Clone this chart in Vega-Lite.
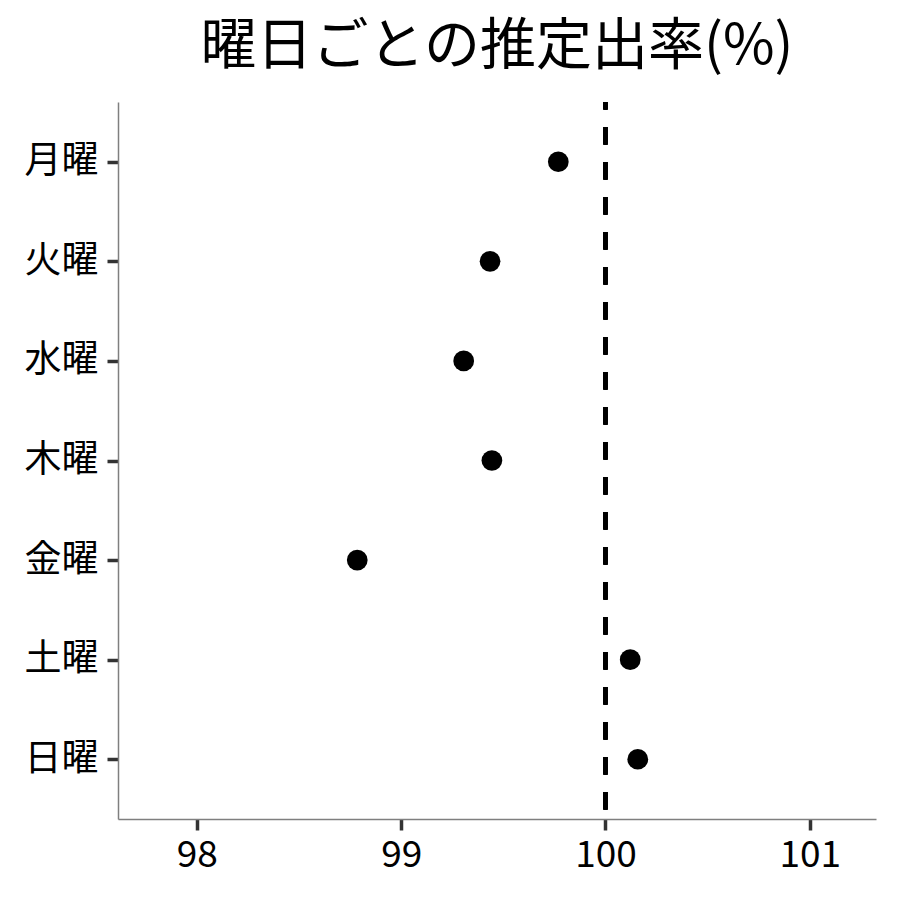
{
  "$schema": "https://vega.github.io/schema/vega-lite/v6.json",
  "width": 758,
  "height": 717,
  "autosize": {"type": "none"},
  "padding": {"left": 118, "top": 102, "right": 24, "bottom": 81},
  "background": "white",
  "title": {
    "text": "曜日ごとの推定出率(%)",
    "font": "Noto Sans CJK JP",
    "fontSize": 56,
    "fontWeight": "normal",
    "color": "black",
    "anchor": "middle",
    "offset": 24
  },
  "data": {
    "values": [
      {"day": "月曜", "rate": 99.769},
      {"day": "火曜", "rate": 99.435},
      {"day": "水曜", "rate": 99.306},
      {"day": "木曜", "rate": 99.444},
      {"day": "金曜", "rate": 98.785},
      {"day": "土曜", "rate": 100.121},
      {"day": "日曜", "rate": 100.158}
    ]
  },
  "layer": [
    {
      "mark": {"type": "rule", "color": "black", "strokeWidth": 4, "strokeDash": [17.5, 17.5], "strokeDashOffset": 10},
      "encoding": {"x": {"datum": 100, "type": "quantitative"}}
    },
    {
      "mark": {"type": "point", "filled": true, "color": "black", "opacity": 1, "size": 430},
      "encoding": {
        "x": {
          "field": "rate",
          "type": "quantitative",
          "title": null,
          "scale": {"domain": [97.614, 101.324], "nice": false, "zero": false},
          "axis": {"values": [98, 99, 100, 101], "format": "d", "labelPadding": 7}
        },
        "y": {
          "field": "day",
          "type": "nominal",
          "title": null,
          "sort": ["月曜", "火曜", "水曜", "木曜", "金曜", "土曜", "日曜"],
          "scale": {"padding": 0.6},
          "axis": {"labelPadding": 9}
        }
      }
    }
  ],
  "config": {
    "view": {"stroke": null},
    "axis": {
      "grid": false,
      "domainColor": "#7f7f7f",
      "domainWidth": 1.5,
      "tickColor": "#333333",
      "tickWidth": 3.5,
      "tickSize": 11,
      "labelFont": "Noto Sans CJK JP",
      "labelFontSize": 37,
      "labelColor": "black"
    }
  }
}
